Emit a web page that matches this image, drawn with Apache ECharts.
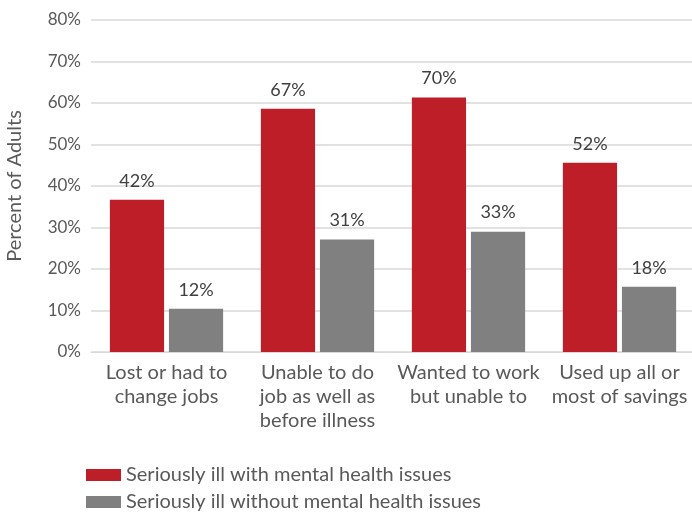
<!DOCTYPE html>
<html><head><meta charset="utf-8">
<script src="https://cdn.jsdelivr.net/npm/echarts@6/dist/echarts.min.js"></script>
<style>html,body{margin:0;padding:0;background:#fff}#c{width:692px;height:512px}</style>
</head><body><div id="c"></div>
<script>
const categories = ['Lost or had to\nchange jobs', 'Unable to do\njob as well as\nbefore illness', 'Wanted to work\nbut unable to', 'Used up all or\nmost of savings'];
const seriesNames = ['Seriously ill with mental health issues', 'Seriously ill without mental health issues'];
// bar heights as drawn against the axis
const withMental = [36.7, 58.6, 61.3, 45.6];
const withoutMental = [10.4, 27.1, 29.0, 15.7];
// value labels as printed above the bars
const withMentalLabels = ['42%', '67%', '70%', '52%'];
const withoutMentalLabels = ['12%', '31%', '33%', '18%'];
const yTicks = [0, 10, 20, 30, 40, 50, 60, 70, 80];

const FONT = 'Lato';
const chart = echarts.init(document.getElementById('c'), null, {renderer: 'canvas'});
function mkSeries(name, data, labels, color) {
  return {
    name, type: 'bar', data,
    barGap: '9%', barCategoryGap: '25%',
    itemStyle: {color},
    label: {show: true, position: 'top', distance: 10, color: '#404040', fontFamily: FONT, fontSize: 18,
      formatter: p => labels[p.dataIndex]},
    emphasis: {disabled: true}
  };
}
chart.setOption({
  animation: false,
  textStyle: {fontFamily: FONT},
  grid: {left: 91, top: 20, width: 604, height: 332, containLabel: false, outerBoundsMode: 'none'},
  xAxis: {
    type: 'category', data: categories,
    axisLine: {show: true, lineStyle: {color: '#d9d9d9', width: 1}},
    axisTick: {show: false},
    axisLabel: {color: '#595959', fontFamily: FONT, fontSize: 20, lineHeight: 24, margin: 9, interval: 0}
  },
  yAxis: {
    type: 'value', min: yTicks[0], max: yTicks[yTicks.length - 1], interval: 10,
    name: 'Percent of Adults', nameLocation: 'middle', nameGap: 66, nameRotate: 90,
    nameTextStyle: {color: '#595959', fontFamily: FONT, fontSize: 20},
    axisLine: {show: false}, axisTick: {show: false},
    splitLine: {lineStyle: {color: '#d9d9d9', width: 1.5}},
    axisLabel: {color: '#595959', fontFamily: FONT, fontSize: 17, margin: 10, formatter: v => v + '%'}
  },
  legend: {
    orient: 'vertical', left: 81, top: 460, height: 80, itemWidth: 35, itemHeight: 12, itemGap: 7,
    icon: 'rect', selectedMode: false,
    textStyle: {color: '#595959', fontFamily: FONT, fontSize: 20},
    data: seriesNames
  },
  series: [
    mkSeries(seriesNames[0], withMental, withMentalLabels, '#be1e27'),
    mkSeries(seriesNames[1], withoutMental, withoutMentalLabels, '#808080')
  ]
});
</script></body></html>
